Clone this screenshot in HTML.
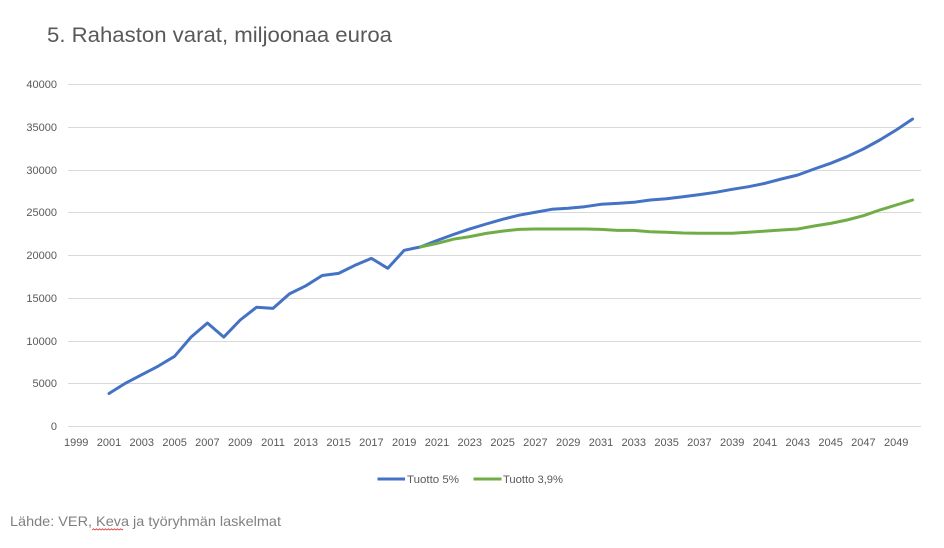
<!DOCTYPE html>
<html>
<head>
<meta charset="utf-8">
<style>
html,body{margin:0;padding:0;background:#fff;}
svg{display:block;}
text{font-family:"Liberation Sans",sans-serif;fill:#595959;}
</style>
</head>
<body>
<svg width="944" height="548" viewBox="0 0 944 548" xmlns="http://www.w3.org/2000/svg">
<rect width="944" height="548" fill="#fff"/>
<text x="47" y="42" font-size="21" textLength="345" lengthAdjust="spacingAndGlyphs">5. Rahaston varat, miljoonaa euroa</text>
<g stroke="#d9d9d9" stroke-width="1">
<line x1="68" y1="84.5" x2="921" y2="84.5"/>
<line x1="68" y1="127.5" x2="921" y2="127.5"/>
<line x1="68" y1="170.5" x2="921" y2="170.5"/>
<line x1="68" y1="212.5" x2="921" y2="212.5"/>
<line x1="68" y1="255.5" x2="921" y2="255.5"/>
<line x1="68" y1="298.5" x2="921" y2="298.5"/>
<line x1="68" y1="341.5" x2="921" y2="341.5"/>
<line x1="68" y1="383.5" x2="921" y2="383.5"/>
<line x1="68" y1="426.5" x2="921" y2="426.5"/>
</g>
<g font-size="11" text-anchor="end">
<text x="57" y="88">40000</text>
<text x="57" y="131">35000</text>
<text x="57" y="174">30000</text>
<text x="57" y="216">25000</text>
<text x="57" y="259">20000</text>
<text x="57" y="302">15000</text>
<text x="57" y="345">10000</text>
<text x="57" y="387">5000</text>
<text x="57" y="430">0</text>
</g>
<g font-size="11" text-anchor="middle">
<text x="76.2" y="446">1999</text>
<text x="109" y="446">2001</text>
<text x="141.8" y="446">2003</text>
<text x="174.6" y="446">2005</text>
<text x="207.4" y="446">2007</text>
<text x="240.2" y="446">2009</text>
<text x="273" y="446">2011</text>
<text x="305.8" y="446">2013</text>
<text x="338.6" y="446">2015</text>
<text x="371.4" y="446">2017</text>
<text x="404.2" y="446">2019</text>
<text x="437" y="446">2021</text>
<text x="469.8" y="446">2023</text>
<text x="502.6" y="446">2025</text>
<text x="535.4" y="446">2027</text>
<text x="568.2" y="446">2029</text>
<text x="601" y="446">2031</text>
<text x="633.8" y="446">2033</text>
<text x="666.6" y="446">2035</text>
<text x="699.4" y="446">2037</text>
<text x="732.2" y="446">2039</text>
<text x="765" y="446">2041</text>
<text x="797.8" y="446">2043</text>
<text x="830.6" y="446">2045</text>
<text x="863.4" y="446">2047</text>
<text x="896.2" y="446">2049</text>
</g>
<polyline fill="none" stroke="#4472C4" stroke-width="3" stroke-linejoin="round" stroke-linecap="round"
points="109,393.5 125.4,383.25 141.8,374.7 158.2,366.15 174.6,356.3 191,337.1 207.4,323 223.8,337.1 240.2,320 256.6,307.2 273,308.4 289.4,293.9 305.8,285.8 322.2,275.5 338.6,273.4 355,265.3 371.4,258.4 387.8,268.3 404.2,250.3 420.6,246.9 437,240.5 453.4,234.5 469.8,228.9 486.2,224 502.6,219.3 519,215.2 535.4,212.25 551.8,209.3 568.2,208.3 584.6,206.7 601,204.3 617.4,203.4 633.8,202.3 650.2,200 666.6,198.7 683,196.7 699.4,194.6 715.8,192.3 732.2,189.3 748.6,186.7 765,183.35 781.4,179 797.8,175 814.2,169 830.6,163.3 847,156.7 863.4,149 879.8,140 896.2,130 912.6,119.05"/>
<polyline fill="none" stroke="#70AD47" stroke-width="3" stroke-linejoin="round" stroke-linecap="round"
points="420.6,246.9 437,243.4 453.4,239.2 469.8,236.6 486.2,233.4 502.6,231.1 519,229.35 535.4,229 551.8,229 568.2,229 584.6,229 601,229.35 617.4,230.4 633.8,230.4 650.2,231.7 666.6,232.3 683,233 699.4,233.3 715.8,233.3 732.2,233.3 748.6,232.3 765,231.1 781.4,230 797.8,229 814.2,226 830.6,223.4 847,220 863.4,215.7 879.8,210 896.2,205 912.6,200"/>
<line x1="377.5" y1="479" x2="405" y2="479" stroke="#4472C4" stroke-width="3"/>
<text x="407" y="483" font-size="11" textLength="52" lengthAdjust="spacingAndGlyphs">Tuotto 5%</text>
<line x1="473.5" y1="479" x2="501.5" y2="479" stroke="#70AD47" stroke-width="3"/>
<text x="503" y="483" font-size="11" textLength="60" lengthAdjust="spacingAndGlyphs">Tuotto 3,9%</text>
<text x="10" y="526" font-size="14" fill="#808080" style="fill:#808080" textLength="271" lengthAdjust="spacingAndGlyphs">Lähde: VER, Keva ja työryhmän laskelmat</text>
<polyline fill="none" stroke="#e03030" stroke-width="0.8" points="92,530 93.5,528.8 95,530 96.5,528.8 98,530 99.5,528.8 101,530 102.5,528.8 104,530 105.5,528.8 107,530 108.5,528.8 110,530 111.5,528.8 113,530 114.5,528.8 116,530 117.5,528.8 119,530 120.5,528.8 122,530 123,529"/>
</svg>
</body>
</html>
